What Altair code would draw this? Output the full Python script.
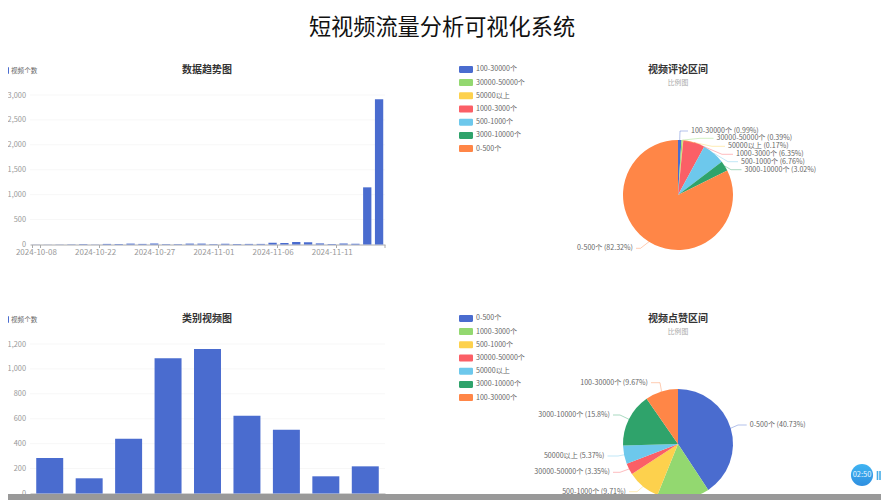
import math
import altair as alt
import pandas as pd

FONT = "Noto Sans CJK SC"
PAGE_TITLE = "短视频流量分析可视化系统"
SERIES = "视频个数"

TREND_DATES = ["2024-10-08", "2024-10-10", "2024-10-13", "2024-10-16", "2024-10-19",
               "2024-10-22", "2024-10-23", "2024-10-24", "2024-10-25", "2024-10-26",
               "2024-10-27", "2024-10-28", "2024-10-29", "2024-10-30", "2024-10-31",
               "2024-11-01", "2024-11-02", "2024-11-03", "2024-11-04", "2024-11-05",
               "2024-11-06", "2024-11-07", "2024-11-08", "2024-11-09", "2024-11-10",
               "2024-11-11", "2024-11-12", "2024-11-13", "2024-11-14", "2024-11-15"]
TREND_VALUES = [2, 2, 3, 5, 8, 3, 12, 10, 18, 12, 20, 8, 8, 18, 18,
                8, 15, 10, 12, 12, 35, 30, 50, 45, 22, 10, 20, 15, 1147, 2915]
TREND_LABELS = ["2024-10-08", "2024-10-22", "2024-10-27", "2024-11-01", "2024-11-06", "2024-11-11"]
TREND_TICKS = [0, 500, 1000, 1500, 2000, 2500, 3000]

CATEGORY_NAMES = ["类别1", "类别2", "类别3", "类别4", "类别5", "类别6", "类别7", "类别8", "类别9"]
CATEGORY_VALUES = [285, 122, 440, 1085, 1160, 625, 512, 138, 218]
CATEGORY_TICKS = [0, 200, 400, 600, 800, 1000, 1200]

COMMENT_NAMES = ["100-30000个", "30000-50000个", "50000以上", "1000-3000个", "500-1000个", "3000-10000个", "0-500个"]
COMMENT_SHARES = [0.99, 0.39, 0.17, 6.35, 6.76, 3.02, 82.32]

LIKE_NAMES = ["0-500个", "1000-3000个", "500-1000个", "30000-50000个", "50000以上", "3000-10000个", "100-30000个"]
LIKE_SHARES = [40.73, 15.37, 9.71, 3.35, 5.37, 15.8, 9.67]

PALETTE = ["#4a6ccf", "#93d870", "#fdd14d", "#fb5f66", "#6dc8ec", "#2fa36b", "#ff8647"]
SWATCH = "M-0.84,-0.5 H0.84 Q1,-0.5 1,-0.34 V0.34 Q1,0.5 0.84,0.5 H-0.84 Q-1,0.5 -1,0.34 V-0.34 Q-1,-0.5 -0.84,-0.5 Z"


def text_layer(text, x, y, size, color, weight="normal"):
    return alt.Chart(pd.DataFrame({"t": [text]})).mark_text(
        font=FONT, fontSize=size, color=color, fontWeight=weight, align="center", baseline="middle"
    ).encode(text="t:N", x=alt.value(x), y=alt.value(y))


def bar_panel(names, values, ticks, top, base, y_max, legend_y, x_axis):
    frame = pd.DataFrame({"name": names, "value": values, "series": [SERIES] * len(names)})
    grid = alt.Chart(pd.DataFrame({"tick": ticks[1:]})).mark_rule(color="#f7f7f7", strokeWidth=1).encode(
        y=alt.Y("tick:Q", axis=None, scale=alt.Scale(domain=[0, y_max], range=[base, top], nice=False)),
        x=alt.value(30), x2=alt.value(385),
    )
    inner = 1 - 8.3 / (355 / len(names)) if len(names) > 10 else 0.316
    bars = alt.Chart(frame).mark_bar(cornerRadius=0).encode(
        x=alt.X("name:N", sort=None, axis=x_axis, title=None,
                scale=alt.Scale(domain=names, range=[30, 385], paddingInner=inner, paddingOuter=inner / 2)),
        y=alt.Y("value:Q", title=None,
                scale=alt.Scale(domain=[0, y_max], range=[base, top], nice=False),
                axis=alt.Axis(orient="left", offset=-30, values=ticks, labelExpr="format(datum.value, ',')",
                              grid=False, domain=False, ticks=False, labelPadding=4.5, labelFont=FONT,
                              labelFontSize=7.4, labelColor="#999999")),
        color=alt.Color("series:N", scale=alt.Scale(domain=[SERIES], range=[PALETTE[0]]),
                        legend=alt.Legend(orient="none", legendX=-5, legendY=legend_y, title=None, padding=0,
                                          symbolType=SWATCH, symbolSize=196, symbolStrokeWidth=0,
                                          labelFont=FONT, labelFontSize=6.6, labelColor="#666666", labelOffset=2)),
    )
    return [grid, bars]


def pie_panel(names, shares, cy, legend_y, layout, cx=678, radius=55):
    frame = pd.DataFrame({"name": names, "share": shares, "idx": range(len(names))})
    arcs = alt.Chart(frame).mark_arc(outerRadius=radius).encode(
        theta=alt.Theta("share:Q", stack=True),
        order=alt.Order("idx:Q"),
        color=alt.Color("name:N", sort=names, scale=alt.Scale(domain=names, range=PALETTE),
                        legend=alt.Legend(orient="none", legendX=459, legendY=legend_y, title=None, padding=0,
                                          symbolType=SWATCH, symbolSize=196, symbolStrokeWidth=0,
                                          rowPadding=2.2, labelFont=FONT, labelFontSize=7.1,
                                          labelColor="#666666", labelOffset=3)),
        x=alt.value(cx), y=alt.value(cy),
    )
    line_rows, text_rows = [], []
    total = sum(shares)
    run = 0.0
    for name, share, color in zip(names, shares, PALETTE):
        mid = (run + share / 2) / total * 2 * math.pi
        run += share
        if name not in layout:
            continue
        elbow_x, end_x, text_y = layout[name]
        start = (cx + radius * math.sin(mid), cy - radius * math.cos(mid))
        for i, (a, b) in enumerate([start, (elbow_x, text_y), (end_x, text_y)]):
            line_rows.append({"g": name, "i": i, "px": a, "py": b, "c": color})
        right = end_x > elbow_x
        text_rows.append({"t": f"{name} ({share}%)", "px": end_x + (3 if right else -3), "py": text_y})
    lines = alt.Chart(pd.DataFrame(line_rows)).mark_line(strokeWidth=0.7, opacity=0.6, interpolate="linear").encode(
        x=alt.X("px:Q", scale=None, axis=None), y=alt.Y("py:Q", scale=None, axis=None),
        detail="g:N", order="i:Q", color=alt.Color("c:N", scale=None, legend=None),
    )
    text_frame = pd.DataFrame(text_rows)
    right_side = text_frame[text_frame.px > cx]
    left_side = text_frame[text_frame.px <= cx]
    labels = []
    for part, align in ((right_side, "left"), (left_side, "right")):
        if len(part):
            labels.append(alt.Chart(part).mark_text(font=FONT, fontSize=7.1, color="#666666", align=align,
                                                     baseline="middle").encode(
                text="t:N", x=alt.X("px:Q", scale=None, axis=None), y=alt.Y("py:Q", scale=None, axis=None)))
    return [arcs, lines] + labels


# per-label leader geometry: elbow x, line end x, label y
COMMENT_LAYOUT = {
    "100-30000个": (680, 688, 131), "30000-50000个": (700, 713.5, 138.3), "50000以上": (712, 725, 146.3),
    "1000-3000个": (722, 733, 154.3), "500-1000个": (728, 738, 161.7), "3000-10000个": (731, 741.5, 169.7),
    "0-500个": (640.5, 636, 248.3),
}
LIKE_LAYOUT = {
    "0-500个": (738, 746.7, 425), "100-30000个": (660, 651, 382.7), "3000-10000个": (620, 613, 415),
    "50000以上": (618, 607.5, 456), "30000-50000个": (620, 613, 472.3), "500-1000个": (637, 629, 491.7),
}

trend_axis = alt.Axis(orient="bottom", offset=-255.5, values=TREND_LABELS, tickBand="extent", labelAngle=0,
                      labelFont=FONT, labelFontSize=8, labelColor="#999999", labelOverlap=False, labelFlush=False,
                      domainColor="#aaaaaa", tickColor="#aaaaaa", tickSize=3, labelPadding=1, grid=False)
category_axis = alt.Axis(orient="bottom", offset=-6.5, labels=False, ticks=False, domainColor="#aaaaaa", grid=False)

layers = []
layers += bar_panel(TREND_DATES, TREND_VALUES, TREND_TICKS, 95, 244.5, 3000, 63.5, trend_axis)
layers += bar_panel(CATEGORY_NAMES, CATEGORY_VALUES, CATEGORY_TICKS, 344, 493.5, 1200, 312.5, category_axis)
layers += pie_panel(COMMENT_NAMES, COMMENT_SHARES, 195, 62.4, COMMENT_LAYOUT)
layers += pie_panel(LIKE_NAMES, LIKE_SHARES, 444, 311.4, LIKE_LAYOUT)

layers.append(text_layer(PAGE_TITLE, 442, 27.5, 22.2, "#111111"))
for title, x, y in [("数据趋势图", 207, 70), ("类别视频图", 207, 319), ("视频评论区间", 678, 70), ("视频点赞区间", 678, 319)]:
    layers.append(text_layer(title, x, y, 10, "#333333", "bold"))
for y in (83, 332):
    layers.append(text_layer("比例图", 678, y, 6.8, "#aaaaaa"))

# last axis tick of the trend chart
layers.append(alt.Chart(pd.DataFrame({"v": [1]})).mark_rule(color="#aaaaaa").encode(
    x=alt.value(385), y=alt.value(245), y2=alt.value(248)))

# bottom scroll bar and playback chip of the screenshot
layers.append(alt.Chart(pd.DataFrame({"v": [1]})).mark_rect(color="#999999").encode(
    x=alt.value(0), x2=alt.value(889), y=alt.value(494), y2=alt.value(500)))
chip_fill = alt.Gradient(gradient="linear", x1=0, y1=0, x2=0, y2=1,
                         stops=[alt.GradientStop(offset=0, color="#3fb4f2"), alt.GradientStop(offset=1, color="#2f8fe0")])
layers.append(alt.Chart(pd.DataFrame({"v": [1]})).mark_point(filled=True, shape="circle", size=490, fill=chip_fill, opacity=1).encode(
    x=alt.value(862), y=alt.value(475)))
layers.append(text_layer("02:50", 862, 475, 7.5, "#e8f6ff"))
for bx in (877.5, 880):
    layers.append(alt.Chart(pd.DataFrame({"v": [1]})).mark_rect(color="#45ace8").encode(
        x=alt.value(bx - 0.8), x2=alt.value(bx + 0.8), y=alt.value(471), y2=alt.value(480)))

chart = alt.layer(*layers).resolve_scale(
    x="independent", y="independent", color="independent", theta="independent"
).properties(
    width=889, height=500,
    padding={"left": -8, "top": -8, "right": -8, "bottom": 0},
    autosize=alt.AutoSizeParams(type="none"),
    background="white",
).configure_view(stroke=None)

chart.save("out.html", embed_options={"renderer": "svg", "actions": False})
